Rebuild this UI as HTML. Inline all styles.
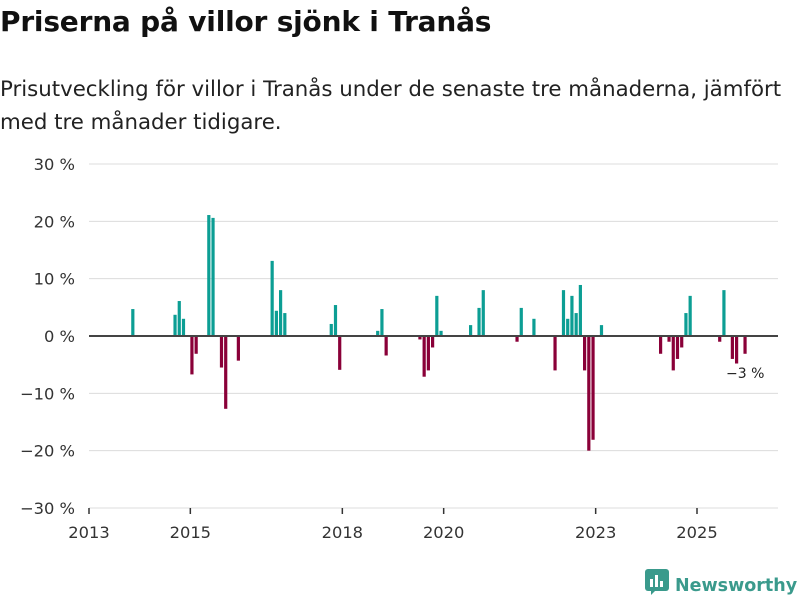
<!DOCTYPE html>
<html><head><meta charset="utf-8"><style>
body{margin:0;width:800px;height:600px;background:#fff;font-family:"DejaVu Sans","Liberation Sans",sans-serif;color:#111;overflow:hidden}
h1{position:absolute;left:0;top:5px;margin:0;font-size:28px;font-weight:bold;letter-spacing:-0.2px;white-space:nowrap}
p.sub{position:absolute;left:0;top:73px;margin:0;font-size:21.3px;line-height:33px;color:#222;width:798px}
svg{position:absolute;left:0;top:0}
.logo{position:absolute;left:645px;top:569px;font-size:17.5px;font-weight:bold;color:#3a9a8c;white-space:nowrap}
</style></head><body>
<h1>Priserna på villor sjönk i Tranås</h1>
<p class="sub">Prisutveckling för villor i Tranås under de senaste tre månaderna, jämfört med tre månader tidigare.</p>
<svg id="chart" width="800" height="600"></svg>
<div class="logo"><svg width="24" height="26" style="vertical-align:-4px;margin-right:6px;position:static"><rect x="0" y="0" width="24" height="22" rx="3" fill="#3a9a8c"/><rect x="5" y="10" width="3" height="8" fill="#fff"/><rect x="10" y="6" width="3" height="12" fill="#fff"/><rect x="15" y="12" width="3" height="6" fill="#fff"/><path d="M6 22 L10 22 L6 26Z" fill="#3a9a8c"/></svg>Newsworthy</div>
<script>
const months=[10,20,21,22,24,25,28,29,31,32,35,43,44,45,46,57,58,59,68,69,70,78,79,80,81,82,83,90,92,93,101,102,105,110,112,113,114,115,116,117,118,119,121,135,137,138,139,140,141,142,149,150,152,153,155];
const values=[4.7,3.7,6.1,3.0,-6.7,-3.1,21.1,20.6,-5.5,-12.7,-4.3,13.1,4.4,8.0,4.0,2.1,5.4,-5.9,0.9,4.7,-3.4,-0.6,-7.1,-6.0,-2.0,7.0,0.9,1.9,4.9,8.0,-1.0,4.9,3.0,-6.0,8.0,3.0,7.0,4.0,8.9,-6.0,-20.0,-18.1,1.9,-3.1,-1.0,-6.0,-4.0,-2.0,4.0,7.0,-1.0,8.0,-4.0,-4.8,-3.1];
const yTicks=[30,20,10,0,-10,-20,-30];
const yTickLabels=["30 %","20 %","10 %","0 %","−10 %","−20 %","−30 %"];
const xTicks=[2013,2015,2018,2020,2023,2025];
const NS="http://www.w3.org/2000/svg";
const svg=document.getElementById('chart');
const y=v=>336-v*(172/30);
const xm=m=>89+m*(608/144);
const xy=yr=>xm((yr-2013)*12);
function mk(t,a){const e=document.createElementNS(NS,t);for(const k in a)e.setAttribute(k,a[k]);svg.appendChild(e);return e;}
yTicks.forEach((v,i)=>{
 if(v!==0){const g=mk('line',{x1:89,x2:778,y1:y(v),y2:y(v),stroke:'#dcdcdc','stroke-width':1});
 
 }
 const t=mk('text',{x:75,y:y(v)+6,'text-anchor':'end','font-size':16.3,fill:'#333'});
 t.textContent=yTickLabels[i];
 
 
});
months.forEach((m,i)=>{
 const v=values[i];const x=xm(m);
 const r=mk('rect',{x:x,width:3.2,y:Math.min(y(v),336),height:Math.abs(y(v)-336),fill:v>=0?'#0c9e94':'#8a0038'});
 
 
});
const z=mk('line',{x1:89,x2:778,y1:336,y2:336,stroke:'#444','stroke-width':2});


xTicks.forEach(yr=>{
 const x=xy(yr);
 const tk=mk('line',{x1:x,x2:x,y1:508,y2:514,stroke:'#333','stroke-width':1.5});
 
 
 const t=mk('text',{x:x,y:538,'text-anchor':'middle','font-size':16.3,fill:'#333'});
 t.textContent=yr;
 
 
});
const lb=mk('text',{x:726,y:378,'font-size':14,fill:'#222'});
lb.textContent='−3 %';


</script>
</body></html>
